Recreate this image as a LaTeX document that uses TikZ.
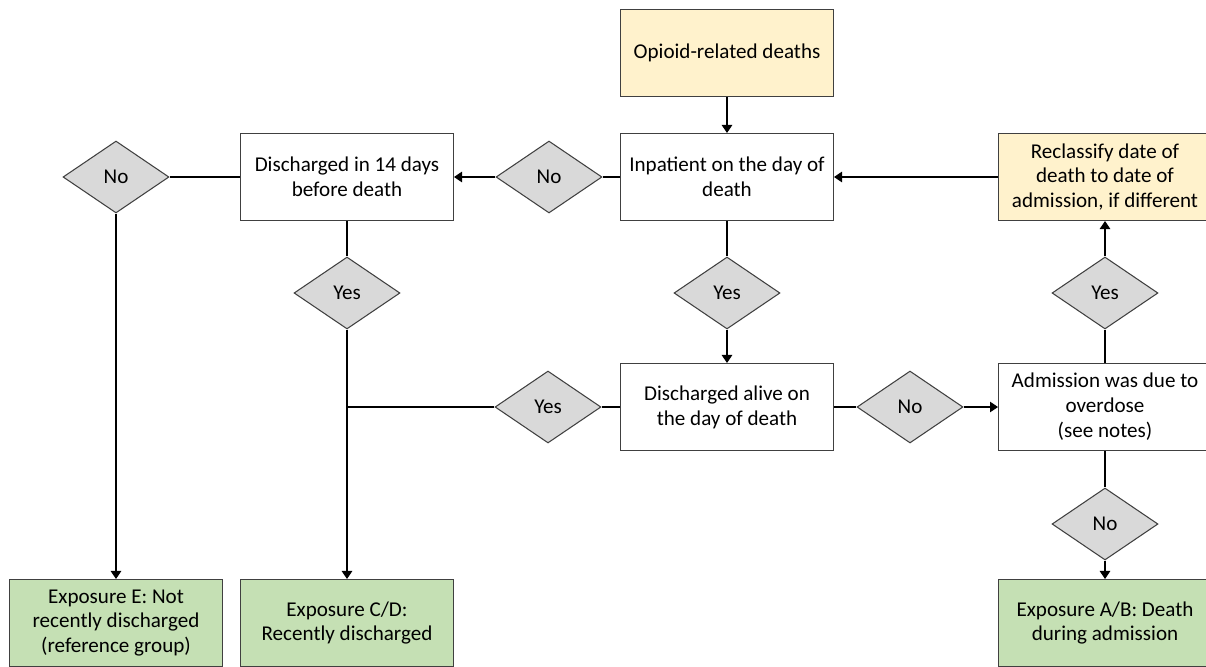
\documentclass[tikz,border=0pt]{standalone}
\usepackage{fontspec}
\setmainfont{Carlito}
\usepackage{tikz}
\usetikzlibrary{arrows.meta,positioning,shapes.geometric}
\definecolor{jaune}{HTML}{FFF2CC}
\definecolor{vert}{HTML}{C5E0B4}
\definecolor{grisD}{HTML}{D9D9D9}
\definecolor{bord}{HTML}{404040}
\tikzset{
  boite/.style={rectangle, draw=bord, line width=0.6pt, fill=#1, align=center,
                font=\fontsize{12}{14.2}\selectfont, minimum width=4.26cm, minimum height=1.74cm, inner sep=1pt},
  boite/.default=white,
  choix/.style={diamond, draw=bord, line width=0.6pt, fill=grisD, font=\fontsize{12}{14.2}\selectfont,
                minimum width=2.12cm, minimum height=1.44cm, inner sep=0pt},
  arr/.style={-{Triangle[length=1.6mm, width=2.1mm]}, line width=0.6pt, draw=black},
  lien/.style={line width=0.6pt, draw=black},
}

\begin{document}
\begin{tikzpicture}[x=0.02cm, y=-0.02cm]
    \useasboundingbox (0,0) rectangle (1206,666);
    % top row
    \node[boite=jaune] (deaths) at (727,53) {Opioid-related deaths};
    \node[boite] (inpat) at (727,177) {Inpatient on the day of\\death};
    \node[boite] (disc14) at (347,177) {Discharged in 14 days\\before death};
    \node[boite=jaune] (reclass) at (1105,177) {Reclassify date of\\death to date of\\admission, if different};
    \node[choix] (noL) at (116,177) {No};
    \node[choix] (noM) at (549,177) {No};
    % middle row
    \node[choix] (yesL) at (347,293) {Yes};
    \node[choix] (yesM) at (727,293) {Yes};
    \node[choix] (yesR) at (1105,293) {Yes};
    \node[boite] (alive) at (727,407) {Discharged alive on\\the day of death};
    \node[boite] (admis) at (1105,407) {Admission was due to\\overdose\\(see notes)};
    \node[choix] (yesA) at (548,407) {Yes};
    \node[choix] (noA) at (910,407) {No};
    \node[choix] (noB) at (1105,524) {No};
    % exposures
    \node[boite=vert] (expE) at (116,623) {Exposure E: Not\\recently discharged\\(reference group)};
    \node[boite=vert] (expCD) at (347,623) {Exposure C/D:\\Recently discharged};
    \node[boite=vert] (expAB) at (1105,623) {Exposure A/B: Death\\during admission};

    \draw[arr] (deaths) -- (inpat);
    \draw[lien] (inpat) -- (noM);
    \draw[arr] (noM) -- (disc14);
    \draw[lien] (disc14) -- (noL);
    \draw[arr] (noL) -- (expE);
    \draw[lien] (disc14) -- (yesL);
    \draw[arr] (yesL) -- (expCD);
    \draw[lien] (inpat) -- (yesM);
    \draw[arr] (yesM) -- (alive);
    \draw[lien] (alive) -- (yesA);
    \draw[lien] (yesA) -- (yesA -| yesL);
    \draw[lien] (alive) -- (noA);
    \draw[arr] (noA) -- (admis);
    \draw[lien] (admis) -- (yesR);
    \draw[arr] (yesR) -- (reclass);
    \draw[arr] (reclass) -- (inpat);
    \draw[lien] (admis) -- (noB);
    \draw[arr] (noB) -- (expAB);
  \end{tikzpicture}
\end{document}
